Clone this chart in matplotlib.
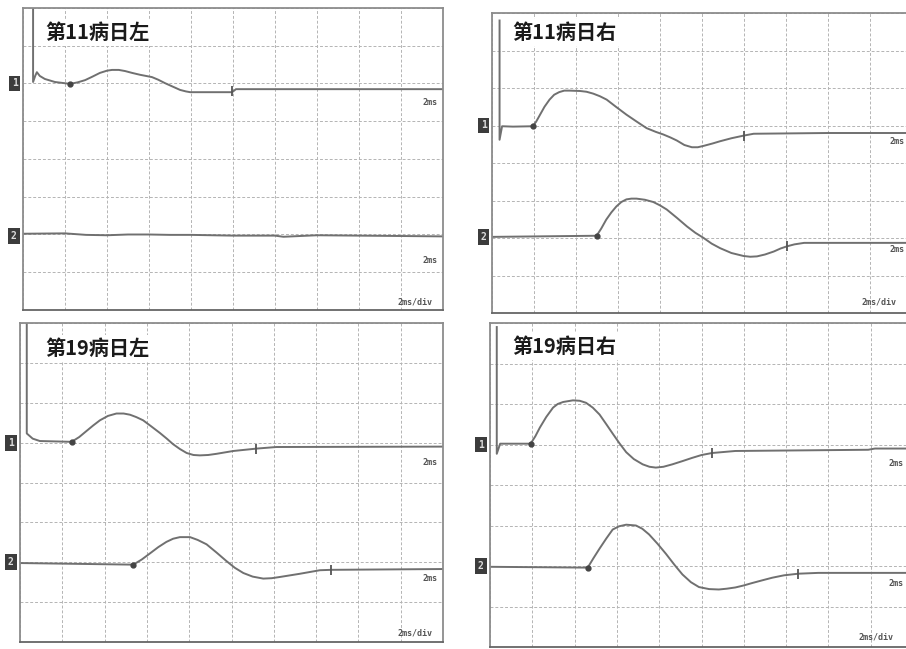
import matplotlib.pyplot as plt

plt.rcParams['font.family'] = ['Noto Sans CJK SC', 'DejaVu Sans']

W, H = 906, 649

titles = ["第11病日左", "第11病日右", "第19病日左", "第19病日右"]

# panel frames in pixels: left, right, top, bottom
frames = [(23, 443, 8, 310), (492, 912, 13, 313),
          (20, 443, 323, 642), (490, 913, 323, 647)]

# traces in screen divisions (10 x 8 grid)
p1_t1_x = [0.24, 0.24, 0.29, 0.33, 0.4, 0.52, 0.76, 1.12, 1.3, 1.48, 1.65, 1.83, 2.0, 2.12,
           2.28, 2.43, 2.6, 2.79, 3.07, 3.22, 3.38, 3.56, 3.74, 3.88, 3.98, 4.98, 5.07, 10]
p1_t1_y = [8.0, 6.04, 6.2, 6.3, 6.2, 6.12, 6.04, 5.99, 6.03, 6.09, 6.18, 6.28, 6.34, 6.36,
           6.36, 6.33, 6.28, 6.23, 6.17, 6.1, 6.01, 5.92, 5.83, 5.79, 5.77, 5.77, 5.85, 5.85]
p1_t2_x = [0, 1, 1.5, 2, 2.5, 3, 3.5, 4, 5, 6, 6.2, 7, 8, 9, 10]
p1_t2_y = [2.02, 2.03, 1.99, 1.98, 2.0, 2.0, 1.99, 1.99, 1.97, 1.97, 1.94, 1.98, 1.97, 1.96, 1.95]

p2_t1_x = [0.18, 0.18, 0.24, 0.5, 0.97, 1.05, 1.15, 1.25, 1.37, 1.48, 1.6, 1.72, 1.85, 2.1,
           2.25, 2.41, 2.57, 2.73, 2.95, 3.2, 3.45, 3.68, 3.9, 4.08, 4.25, 4.4, 4.58, 4.76,
           4.9, 5.05, 5.25, 5.43, 5.7, 5.99, 6.23, 8, 10]
p2_t1_y = [7.8, 4.62, 4.98, 4.97, 4.98, 5.1, 5.3, 5.5, 5.69, 5.82, 5.89, 5.93, 5.93, 5.92,
           5.9, 5.85, 5.78, 5.69, 5.5, 5.29, 5.1, 4.93, 4.83, 4.76, 4.68, 4.6, 4.48, 4.42,
           4.42, 4.46, 4.52, 4.58, 4.66, 4.73, 4.78, 4.8, 4.8]
p2_t2_x = [0, 2.49, 2.6, 2.72, 2.84, 2.96, 3.08, 3.2, 3.32, 3.44, 3.64, 3.84, 4.0, 4.16, 4.4,
           4.64, 4.84, 5.04, 5.23, 5.43, 5.7, 5.99, 6.15, 6.31, 6.5, 6.71, 6.87, 7.03, 7.2,
           7.43, 10]
p2_t2_y = [2.03, 2.06, 2.25, 2.49, 2.68, 2.84, 2.96, 3.03, 3.05, 3.05, 3.02, 2.96, 2.87, 2.76,
           2.54, 2.31, 2.14, 2.0, 1.85, 1.73, 1.6, 1.52, 1.5, 1.51, 1.56, 1.64, 1.72, 1.78,
           1.83, 1.87, 1.87]

p3_t1_x = [0.16, 0.16, 0.3, 0.47, 1.22, 1.4, 1.57, 1.73, 1.89, 2.08, 2.28, 2.45, 2.6, 2.75,
           2.91, 3.1, 3.31, 3.47, 3.62, 3.78, 3.94, 4.1, 4.25, 4.45, 4.65, 5.04, 5.59, 6.06, 10]
p3_t1_y = [8.0, 5.23, 5.1, 5.04, 5.02, 5.14, 5.29, 5.43, 5.56, 5.67, 5.73, 5.73, 5.7, 5.64,
           5.56, 5.41, 5.24, 5.1, 4.96, 4.84, 4.74, 4.69, 4.68, 4.69, 4.72, 4.79, 4.85, 4.89, 4.9]
p3_t2_x = [0, 2.68, 2.88, 3.07, 3.27, 3.46, 3.62, 3.78, 4.02, 4.2, 4.41, 4.65, 4.88, 5.08,
           5.28, 5.5, 5.75, 5.95, 6.14, 6.61, 7.09, 7.36, 10]
p3_t2_y = [1.98, 1.94, 2.07, 2.22, 2.38, 2.51, 2.59, 2.63, 2.63, 2.56, 2.45, 2.24, 2.03, 1.86,
           1.73, 1.64, 1.59, 1.6, 1.63, 1.71, 1.8, 1.81, 1.83]

p4_t1_x = [0.16, 0.16, 0.24, 0.96, 1.07, 1.18, 1.33, 1.49, 1.6, 1.73, 1.96, 2.12, 2.27, 2.43,
           2.59, 2.75, 2.9, 3.06, 3.22, 3.4, 3.61, 3.77, 3.92, 4.1, 4.31, 4.55, 4.78, 5.0,
           5.25, 5.8, 8.94, 9.1, 10]
p4_t1_y = [7.9, 4.77, 5.02, 5.02, 5.2, 5.42, 5.68, 5.91, 6.0, 6.05, 6.09, 6.08, 6.03, 5.91,
           5.74, 5.5, 5.27, 5.03, 4.81, 4.64, 4.51, 4.45, 4.43, 4.45, 4.51, 4.59, 4.67, 4.74,
           4.79, 4.84, 4.87, 4.9, 4.9]
p4_t2_x = [0, 2.31, 2.45, 2.59, 2.75, 2.9, 3.05, 3.22, 3.45, 3.6, 3.76, 3.96, 4.16, 4.36,
           4.55, 4.75, 4.94, 5.18, 5.41, 5.6, 5.8, 6.0, 6.2, 6.45, 6.67, 6.95, 7.29, 7.76, 10]
p4_t2_y = [1.98, 1.96, 2.2, 2.43, 2.68, 2.9, 2.98, 3.02, 3.0, 2.92, 2.78, 2.55, 2.3, 2.03,
           1.79, 1.6, 1.48, 1.43, 1.42, 1.44, 1.47, 1.52, 1.58, 1.65, 1.71, 1.77, 1.81, 1.83,
           1.83]

traces = [[(p1_t1_x, p1_t1_y), (p1_t2_x, p1_t2_y)],
          [(p2_t1_x, p2_t1_y), (p2_t2_x, p2_t2_y)],
          [(p3_t1_x, p3_t1_y), (p3_t2_x, p3_t2_y)],
          [(p4_t1_x, p4_t1_y), (p4_t2_x, p4_t2_y)]]

# onset dots and end ticks (x, y) per panel
dots = [[(1.12, 5.99)], [(0.97, 4.98), (2.49, 2.06)],
        [(1.22, 5.02), (2.68, 1.94)], [(0.96, 5.02), (2.31, 1.96)]]
ticks = [[(4.98, 5.8)], [(5.99, 4.73), (7.03, 1.78)],
         [(5.59, 4.85), (7.36, 1.81)], [(5.25, 4.79), (7.29, 1.81)]]

# channel labels left of each baseline (x, y, text)
chan = [[(-0.2, 6.0, "1"), (-0.22, 1.95, "2")],
        [(-0.2, 5.0, "1"), (-0.2, 2.03, "2")],
        [(-0.22, 5.0, "1"), (-0.22, 2.0, "2")],
        [(-0.22, 5.0, "1"), (-0.22, 2.0, "2")]]

# scale labels (x, y, text, ha)
scales = [[(9.86, 5.5, "2ms", "right"), (9.86, 1.32, "2ms", "right"), (9.76, 0.21, "2ms/div", "right")],
          [(9.47, 4.56, "2ms", "left"), (9.47, 1.68, "2ms", "left"), (8.8, 0.29, "2ms/div", "left")],
          [(9.86, 4.5, "2ms", "right"), (9.86, 1.6, "2ms", "right"), (9.76, 0.22, "2ms/div", "right")],
          [(9.41, 4.54, "2ms", "left"), (9.41, 1.58, "2ms", "left"), (8.7, 0.25, "2ms/div", "left")]]

title_pos = [(0.52, 7.34), (0.48, 7.47), (0.59, 7.37), (0.52, 7.41)]

trace_col = '#707070'
grid_col = '#b4b4b4'

fig = plt.figure(figsize=(W / 100, H / 100), dpi=100)

for i in range(4):
    l, r, t, b = frames[i]
    ax = fig.add_axes([l / W, 1 - b / H, (r - l) / W, (b - t) / H])
    ax.set_xlim(0, 10)
    ax.set_ylim(0, 8)
    ax.set_xticks(range(11))
    ax.set_yticks(range(9))
    ax.tick_params(length=0, labelbottom=False, labelleft=False)
    ax.grid(True, color=grid_col, linestyle=(0, (3, 2)), linewidth=0.7)
    for s in ax.spines.values():
        s.set_color('#8c8c8c')
        s.set_linewidth(1.3)
    ax.spines['bottom'].set_color('#666666')

    for tx, ty in traces[i]:
        ax.plot(tx, ty, color=trace_col, linewidth=1.4, solid_joinstyle='round')
    for dx, dy in dots[i]:
        ax.plot(dx, dy, 'o', color='#444444', markersize=3.5)
    for kx, ky in ticks[i]:
        ax.plot(kx, ky, '|', color='#555555', markersize=7, markeredgewidth=1.3)

    for cx, cy, ct in chan[i]:
        ax.text(cx, cy, ct, fontsize=7, color='#dddddd', weight='bold',
                ha='center', va='center', clip_on=False, family='DejaVu Sans Mono',
                bbox=dict(boxstyle='square,pad=0.3', facecolor='#3c3c3c', edgecolor='none'))

    for sx, sy, st, ha in scales[i]:
        ax.text(sx, sy, st, fontsize=6, color='#555555', weight='bold', ha=ha, va='center',
                family='DejaVu Sans Mono')

    px, py = title_pos[i]
    ax.text(px, py, titles[i], fontsize=14.5, weight='bold', color='#1a1a1a',
            ha='left', va='center',
            bbox=dict(boxstyle='square,pad=0.15', facecolor='white', edgecolor='none'))

fig.savefig('out.png', dpi=100)
